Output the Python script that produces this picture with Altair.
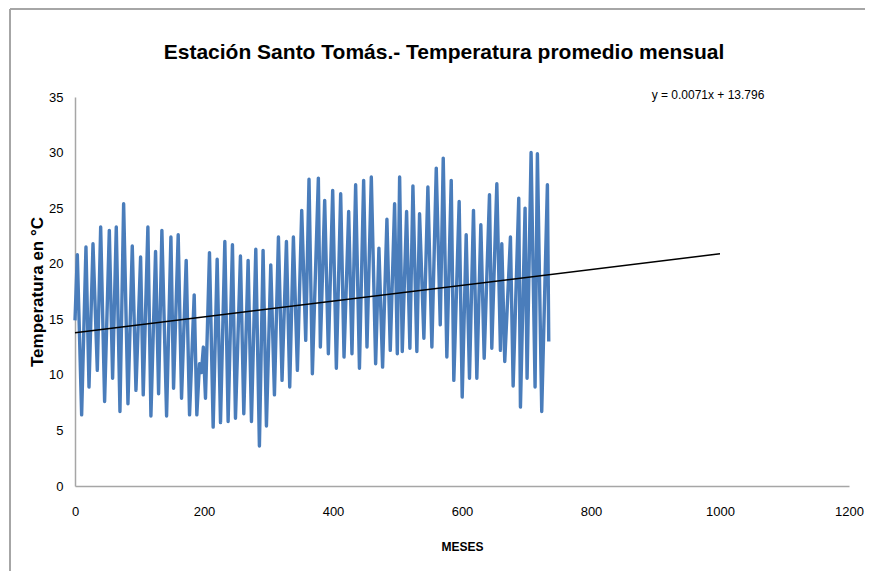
import altair as alt
import pandas as pd

# Monthly mean temperature: turning points (month index, °C)
meses = [0, 3.6, 10.3, 17.0, 21.7, 27.9, 34.6, 39.8, 45.9, 53.2, 58.3, 64.0, 69.7, 75.4, 82.1, 88.8,
         94.5, 101.7, 105.8, 113.0, 117.7, 124.9, 129.6, 134.7, 142.0, 148.7,
         152.8, 160.0, 165.2, 172.4, 177.6, 184.8, 188.9, 193.0, 196.0, 199.0, 202.3, 208.5, 214.2,
         220.4, 225.6, 232.3, 237.4, 244.1, 248.8, 256.5, 261.7, 268.4, 273.6, 280.3, 285.9, 291.6,
         296.8, 303.5, 309.2, 315.4, 321.0, 327.8, 332.9, 338.6, 344.8, 351.5, 357.7, 362.8, 368.0,
         377.3, 380.4, 387.1, 392.8, 399.5, 405.2, 411.9, 417.1, 424.3, 429.4, 435.1, 441.0,
         447.5, 452.7, 459.4, 466.1, 471.2, 476.9, 483.6, 488.8, 495.5, 499.7, 503.3, 507.4, 514.1,
         519.2, 523.9, 530.0, 534.2, 540.9, 547.1, 553.3, 560.1, 566.3, 570.9, 576.5, 583.3, 587.3,
         595.6, 600.3, 606.5, 611.6, 617.8, 623.0, 629.2, 634.4, 642.6, 646.2, 654.0, 659.6, 661.7,
         666.3, 675.1, 679.3, 688.0, 690.6, 697.8, 700.9, 707.1, 713.3, 716.9, 723.6, 732.4, 734.5]
temperatura = [14.9, 20.8, 6.4, 21.5, 8.9, 21.8, 10.4, 23.3, 7.6, 23.0, 9.7, 23.3, 6.7, 25.4, 7.4, 21.6,
               8.6, 20.6, 8.2, 23.3, 6.3, 21.1, 8.3, 23.0, 6.3, 22.4,
               8.8, 22.6, 7.9, 20.3, 6.4, 17.2, 6.4, 11.0, 10.2, 12.5, 7.9, 21.0, 5.3,
               20.4, 5.7, 22.0, 5.8, 21.7, 6.1, 20.7, 6.5, 20.3, 5.8, 21.3, 3.6, 21.2,
               5.4, 19.9, 8.2, 22.4, 9.5, 22.0, 8.9, 22.4, 10.4, 24.8, 13.1, 27.6, 10.1,
               27.7, 12.5, 25.7, 11.9, 26.6, 10.6, 26.3, 11.6, 24.7, 11.9, 27.1, 10.6,
               27.5, 12.5, 27.8, 11.0, 21.4, 10.7, 24.0, 12.2, 25.4, 11.9, 27.8, 12.1, 24.7,
               12.4, 27.0, 12.1, 24.5, 13.3, 26.9, 12.5, 28.6, 14.5, 29.5, 11.6, 27.5, 9.5,
               25.6, 8.0, 22.6, 9.7, 24.8, 9.7, 23.5, 11.5, 26.2, 12.4, 27.2, 12.2, 21.8,
               11.2, 22.4, 9.0, 25.9, 7.1, 25.0, 9.7, 30.0, 8.9, 29.9, 6.7, 27.1, 13.0]

# Linear trend shown on the chart: y = 0.0071x + 13.796, drawn from 0 to 1000
pendiente = 0.0071
intercepto = 13.796
tendencia_x = [0, 1000]

titulo = "Estación Santo Tomás.- Temperatura promedio mensual"
ecuacion = "y = 0.0071x + 13.796"

W, H = 774, 389
FONT = "Liberation Sans"

df = pd.DataFrame({"mes": meses, "temp": temperatura})
df_tr = pd.DataFrame({"mes": tendencia_x,
                      "temp": [pendiente * x + intercepto for x in tendencia_x]})

xscale = alt.Scale(domain=[0, 1200], nice=False)
yscale = alt.Scale(domain=[0, 35], nice=False)

xaxis = alt.Axis(values=[0, 200, 400, 600, 800, 1000, 1200], format="d", title="MESES", grid=False,
                 ticks=False, tickSize=0, labelPadding=19, labelFont=FONT, labelFontSize=13,
                 labelColor="#000000", domainColor="#a6a6a6", domainWidth=1.5,
                 titleFont=FONT, titleFontSize=12, titleFontWeight="bold", titleColor="#000000",
                 titleY=55, titleBaseline="top", labelFlush=False)
yaxis = alt.Axis(values=[0, 5, 10, 15, 20, 25, 30, 35], format="d", title="Temperatura en °C",
                 grid=False, ticks=False, tickSize=0, labelPadding=12, labelFont=FONT,
                 labelFontSize=13, labelColor="#000000", domainColor="#a6a6a6", domainWidth=1.5,
                 titleFont=FONT, titleFontSize=17, titleFontWeight="bold",
                 titleColor="#000000", titleX=-38, titleY=H / 2, titleAngle=-90,
                 titleBaseline="middle", titleAlign="center")

serie = alt.Chart(df).mark_line(color="#4a7dbb", strokeWidth=3.4, strokeJoin="round").encode(
    x=alt.X("mes:Q", scale=xscale, axis=xaxis),
    y=alt.Y("temp:Q", scale=yscale, axis=yaxis),
    order="mes:Q",
)

trend = alt.Chart(df_tr).mark_line(color="#000000", strokeWidth=1.5).encode(
    x=alt.X("mes:Q", scale=xscale),
    y=alt.Y("temp:Q", scale=yscale),
)

one = pd.DataFrame({"t": [titulo], "e": [ecuacion]})

title_txt = alt.Chart(one).mark_text(font=FONT, fontSize=21, fontWeight="bold", color="#000000",
                                     align="center", baseline="alphabetic").encode(
    text="t:N", x=alt.value(369), y=alt.value(-38))

eq_txt = alt.Chart(one).mark_text(font=FONT, fontSize=12, color="#000000",
                                  align="center", baseline="middle").encode(
    text="e:N", x=alt.value(633), y=alt.value(-2))

border_left = alt.Chart(one).mark_rule(color="#a6a6a6", strokeWidth=2).encode(
    x=alt.value(-65), y=alt.value(-88), y2=alt.value(490))
border_top = alt.Chart(one).mark_rule(color="#a6a6a6", strokeWidth=2).encode(
    x=alt.value(-65), x2=alt.value(W + 20), y=alt.value(-88))

chart = alt.layer(border_left, border_top, serie, trend, title_txt, eq_txt).properties(
    width=W, height=H,
    background="#ffffff",
    autosize=alt.AutoSizeParams(type="none"),
    padding={"left": 67, "top": 89, "right": 16, "bottom": 85},
).configure_view(stroke=None)

chart.save("out.html", embed_options={"renderer": "svg", "actions": False})
